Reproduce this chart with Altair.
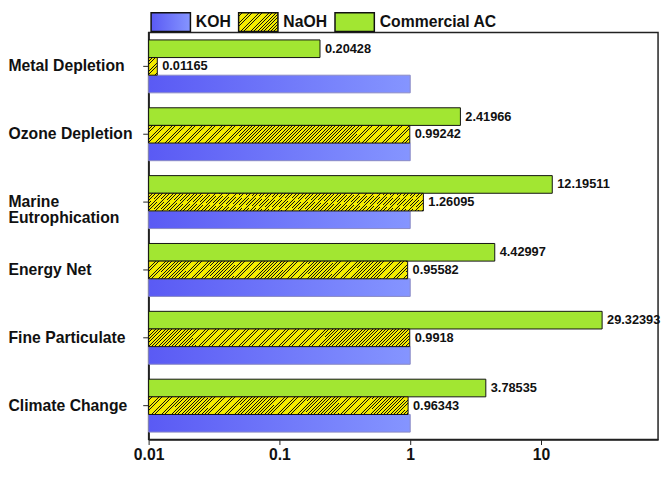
import json

import altair as alt
import pandas as pd

categories = ["Metal Depletion", "Ozone Depletion", "Marine Eutrophication",
              "Energy Net", "Fine Particulate", "Climate Change"]
series = ["KOH", "NaOH", "Commercial AC"]
koh = [1, 1, 1, 1, 1, 1]
naoh = [0.01165, 0.99242, 1.26095, 0.95582, 0.9918, 0.96343]
commercial = [0.20428, 2.41966, 12.19511, 4.42997, 29.32393, 3.78535]
x_ticks = [0.01, 0.1, 1, 10]

rows = []
for i, cat in enumerate(categories):
    for name, vals in zip(series, [koh, naoh, commercial]):
        rows.append({"category": cat, "series": name, "value": vals[i],
                     "label": str(vals[i])})
df = pd.DataFrame(rows)

FONT = "Liberation Sans"
INK = "#111111"
GREEN = "#a2e632"
YELLOW = "#f4ec00"


def hatch(w, h, period=3.4, line=0.25):
    # diagonal "////" stripes as a hard-stop linear gradient, tuned to a w x h box
    r = h / w
    x2 = (1 + r) / (1 + r * r)
    dt = period / (w + h)
    stops = []
    t = 0.0
    while t < 1:
        a = round(min(t + dt * line, 1), 5)
        b = round(min(t + dt, 1), 5)
        stops += [{"offset": round(t, 5), "color": INK}, {"offset": a, "color": INK},
                  {"offset": a, "color": YELLOW}, {"offset": b, "color": YELLOW}]
        t += dt
    return {"gradient": "linear", "x1": 0, "y1": 0, "x2": x2, "y2": r * x2, "stops": stops}


blue = {"gradient": "linear", "x1": 0, "y1": 0, "x2": 1, "y2": 0,
        "stops": [{"offset": 0, "color": "#5a5af4"}, {"offset": 1, "color": "#8595ff"}]}

color_range = [{"expr": json.dumps(blue)}, {"expr": json.dumps(hatch(40, 19))}, GREEN]

base = alt.Chart(df).encode(
    y=alt.Y("category:N", sort=categories, title=None,
            scale=alt.Scale(paddingInner=0.22, paddingOuter=0.11),
            axis=alt.Axis(labelAlign="left", labelPadding=137, tickSize=6,
                          labelLineHeight=16,
                          labelExpr="datum.label == 'Marine Eutrophication' ? ['Marine', 'Eutrophication'] : datum.label")),
    yOffset=alt.YOffset("series:N",
                        scale=alt.Scale(domain=["Commercial AC", "NaOH", "KOH"],
                                        paddingInner=0, paddingOuter=0)),
    x=alt.X("value:Q", title=None, stack=None,
            scale=alt.Scale(type="log", domain=[0.01, 78.5], nice=False),
            axis=alt.Axis(values=x_ticks, format="~g", tickSize=5, labelPadding=2,
                          labelFlush=False)),
)

main = base.mark_bar(strokeWidth=1).encode(
    x2=alt.value(0),
    color=alt.Color("series:N",
                    scale=alt.Scale(domain=series, range=color_range),
                    legend=alt.Legend(orient="none", legendX=12, legendY=-21,
                                      direction="horizontal", title=None,
                                      symbolType="M-2.105,-1H2.105V1H-2.105Z",
                                      symbolSize=361, symbolStrokeColor=INK,
                                      symbolStrokeWidth=1.5, symbolOpacity=1,
                                      labelFont=FONT, labelFontSize=16,
                                      labelFontWeight="bold", labelColor=INK,
                                      labelOffset=15, columnPadding=4, padding=0)),
    stroke=alt.condition("datum.series == 'KOH'", alt.value("#8a8ac4"), alt.value(INK)),
).transform_filter("datum.series != 'NaOH'")

naoh_big = base.mark_bar(fill=hatch(266, 18), stroke=INK, strokeWidth=1).encode(
    x2=alt.value(0)
).transform_filter("datum.series == 'NaOH' && datum.value >= 0.1")
naoh_small = base.mark_bar(fill=hatch(9, 18), stroke=INK, strokeWidth=1).encode(
    x2=alt.value(0)
).transform_filter("datum.series == 'NaOH' && datum.value < 0.1")

labels = base.mark_text(align="left", baseline="middle", dx=5, font=FONT, fontSize=13,
                        fontWeight="bold", color=INK).encode(
    text="label:N"
).transform_filter("datum.series != 'KOH'")

chart = alt.layer(main, naoh_big, naoh_small, labels).properties(
    width=518, height=414, padding=0
).configure_view(
    stroke="#222222", strokeWidth=1.5
).configure_axis(
    labelFont=FONT, labelFontSize=16, labelFontWeight="bold", labelColor=INK,
    tickColor="#222222", domainColor="#222222", domainWidth=1.5, grid=False
)

chart.save("out.html", embed_options={"renderer": "svg", "actions": False})
